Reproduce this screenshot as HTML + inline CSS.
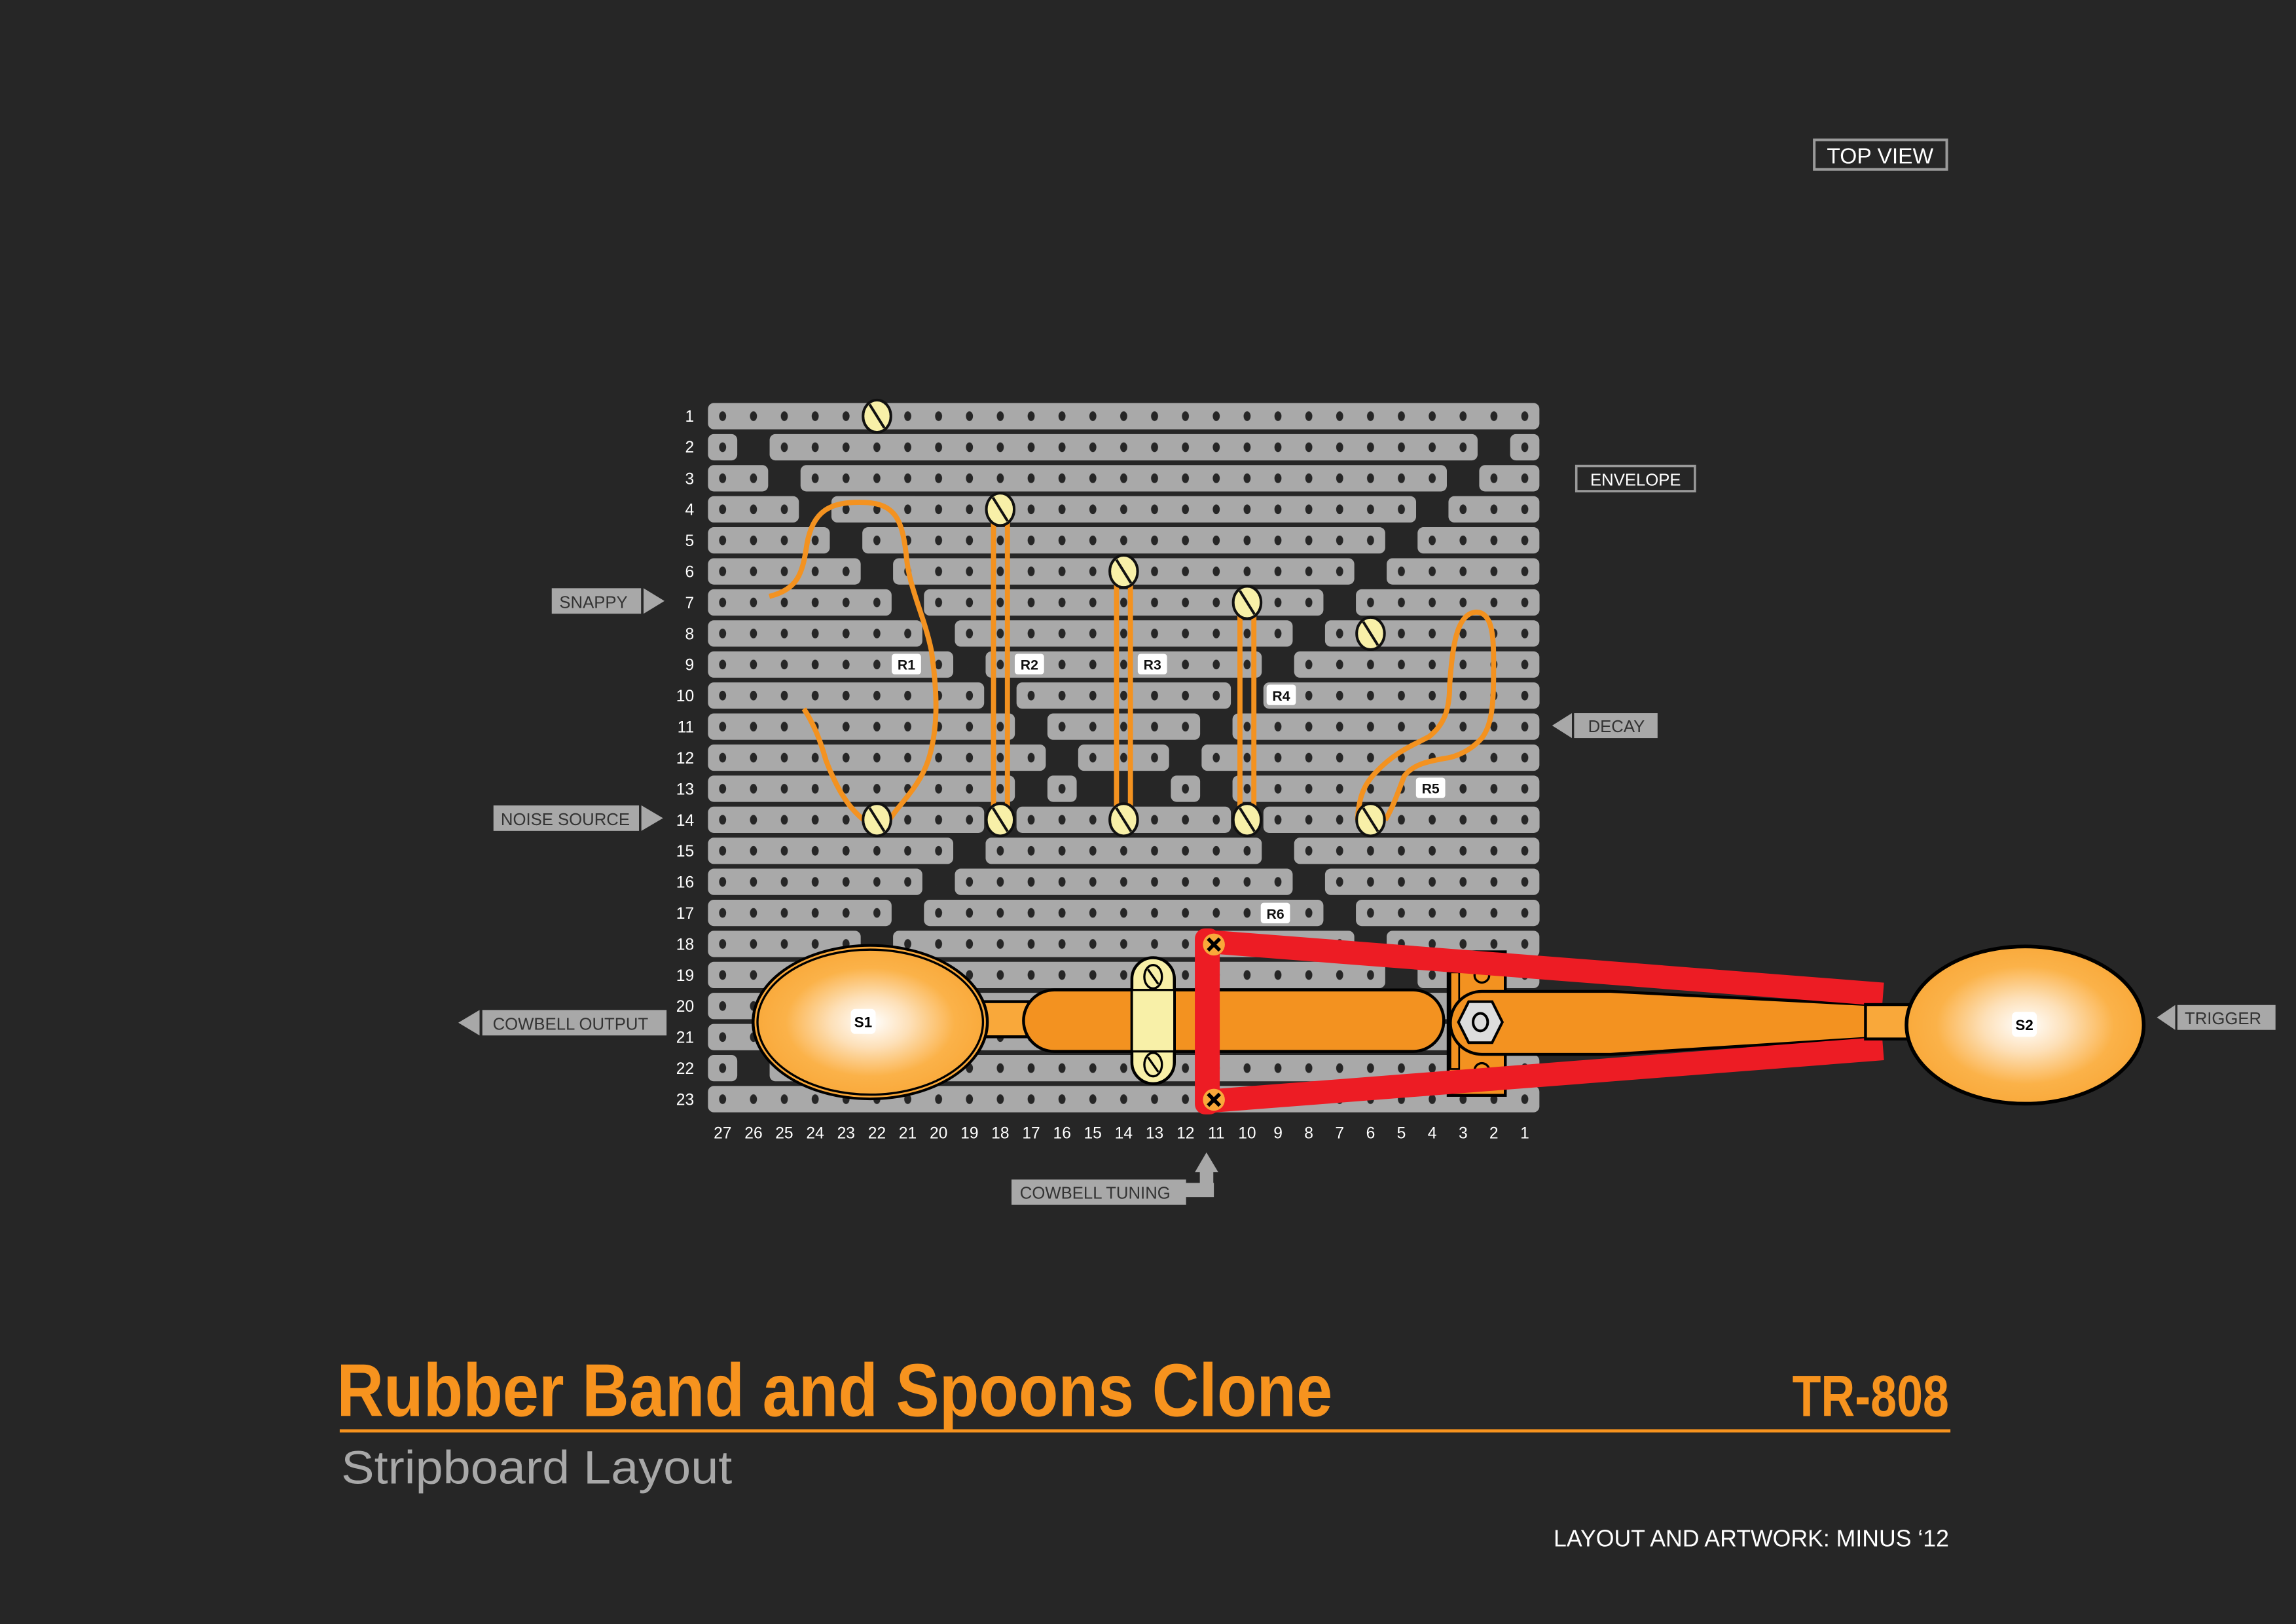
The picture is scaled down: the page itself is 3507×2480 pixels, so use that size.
<!DOCTYPE html>
<html><head><meta charset="utf-8"><style>
html,body{margin:0;padding:0;background:#262626;}
svg{display:block;}
text{font-family:"Liberation Sans",sans-serif;}
</style></head><body>
<svg width="3507" height="2480" viewBox="0 0 1568 1109" preserveAspectRatio="none" xmlns="http://www.w3.org/2000/svg">
<defs>
<pattern id="holes" patternUnits="userSpaceOnUse" x="482.965" y="273.6" width="21.07" height="21.2">
<ellipse cx="10.535" cy="10.6" rx="2.4" ry="3.3" fill="#262626"/>
</pattern>
<radialGradient id="sp" cx="0.5" cy="0.5" r="0.5">
<stop offset="0" stop-color="#ffffff"/>
<stop offset="0.35" stop-color="#fde0b8"/>
<stop offset="0.75" stop-color="#fbb249"/>
<stop offset="1" stop-color="#f9aa3c"/>
</radialGradient>
</defs>
<rect width="1568" height="1109" fill="#262626"/>

<g fill="#a9a9a9">
<rect x="483.5" y="275.2" width="567.8" height="18" rx="4"/>
<rect x="483.5" y="296.4" width="20" height="18" rx="4"/><rect x="525.6" y="296.4" width="483.5" height="18" rx="4"/><rect x="1031.3" y="296.4" width="20" height="18" rx="4"/>
<rect x="483.5" y="317.6" width="41.1" height="18" rx="4"/><rect x="546.7" y="317.6" width="441.4" height="18" rx="4"/><rect x="1010.2" y="317.6" width="41.1" height="18" rx="4"/>
<rect x="483.5" y="338.8" width="62.1" height="18" rx="4"/><rect x="567.8" y="338.8" width="399.3" height="18" rx="4"/><rect x="989.2" y="338.8" width="62.1" height="18" rx="4"/>
<rect x="483.5" y="360" width="83.2" height="18" rx="4"/><rect x="588.9" y="360" width="357.1" height="18" rx="4"/><rect x="968.1" y="360" width="83.2" height="18" rx="4"/>
<rect x="483.5" y="381.2" width="104.3" height="18" rx="4"/><rect x="609.9" y="381.2" width="315" height="18" rx="4"/><rect x="947" y="381.2" width="104.3" height="18" rx="4"/>
<rect x="483.5" y="402.4" width="125.4" height="18" rx="4"/><rect x="631" y="402.4" width="272.8" height="18" rx="4"/><rect x="926" y="402.4" width="125.4" height="18" rx="4"/>
<rect x="483.5" y="423.6" width="146.4" height="18" rx="4"/><rect x="652.1" y="423.6" width="230.7" height="18" rx="4"/><rect x="904.9" y="423.6" width="146.4" height="18" rx="4"/>
<rect x="483.5" y="444.8" width="167.5" height="18" rx="4"/><rect x="673.1" y="444.8" width="188.6" height="18" rx="4"/><rect x="883.8" y="444.8" width="167.5" height="18" rx="4"/>
<rect x="483.5" y="466" width="188.6" height="18" rx="4"/><rect x="694.2" y="466" width="146.4" height="18" rx="4"/><rect x="862.8" y="466" width="188.6" height="18" rx="4"/>
<rect x="483.5" y="487.2" width="209.6" height="18" rx="4"/><rect x="715.3" y="487.2" width="104.3" height="18" rx="4"/><rect x="841.7" y="487.2" width="209.6" height="18" rx="4"/>
<rect x="483.5" y="508.4" width="230.7" height="18" rx="4"/><rect x="736.3" y="508.4" width="62.1" height="18" rx="4"/><rect x="820.6" y="508.4" width="230.7" height="18" rx="4"/>
<rect x="483.5" y="529.6" width="209.6" height="18" rx="4"/><rect x="715.3" y="529.6" width="20" height="18" rx="4"/><rect x="799.6" y="529.6" width="20" height="18" rx="4"/><rect x="841.7" y="529.6" width="209.6" height="18" rx="4"/>
<rect x="483.5" y="550.8" width="188.6" height="18" rx="4"/><rect x="694.2" y="550.8" width="146.4" height="18" rx="4"/><rect x="862.8" y="550.8" width="188.6" height="18" rx="4"/>
<rect x="483.5" y="572" width="167.5" height="18" rx="4"/><rect x="673.1" y="572" width="188.6" height="18" rx="4"/><rect x="883.8" y="572" width="167.5" height="18" rx="4"/>
<rect x="483.5" y="593.2" width="146.4" height="18" rx="4"/><rect x="652.1" y="593.2" width="230.7" height="18" rx="4"/><rect x="904.9" y="593.2" width="146.4" height="18" rx="4"/>
<rect x="483.5" y="614.4" width="125.4" height="18" rx="4"/><rect x="631" y="614.4" width="272.8" height="18" rx="4"/><rect x="926" y="614.4" width="125.4" height="18" rx="4"/>
<rect x="483.5" y="635.6" width="104.3" height="18" rx="4"/><rect x="609.9" y="635.6" width="315" height="18" rx="4"/><rect x="947" y="635.6" width="104.3" height="18" rx="4"/>
<rect x="483.5" y="656.8" width="462.5" height="18" rx="4"/><rect x="968.1" y="656.8" width="83.2" height="18" rx="4"/>
<rect x="483.5" y="678" width="567.8" height="18" rx="4"/>
<rect x="483.5" y="699.2" width="567.8" height="18" rx="4"/>
<rect x="483.5" y="720.4" width="20" height="18" rx="4"/><rect x="525.6" y="720.4" width="525.7" height="18" rx="4"/>
<rect x="483.5" y="741.6" width="567.8" height="18" rx="4"/>
</g>
<rect x="480" y="272" width="575" height="490" fill="url(#holes)"/>

<g fill="#fff" font-size="11" text-anchor="end">
<text x="474" y="288">1</text><text x="474" y="309">2</text><text x="474" y="330.6">3</text><text x="474" y="351.8">4</text><text x="474" y="373">5</text><text x="474" y="394.2">6</text><text x="474" y="415.4">7</text><text x="474" y="436.6">8</text><text x="474" y="457.8">9</text><text x="474" y="479">10</text><text x="474" y="500.2">11</text><text x="474" y="521.4">12</text><text x="474" y="542.6">13</text><text x="474" y="563.8">14</text><text x="474" y="585">15</text><text x="474" y="606.2">16</text><text x="474" y="627.4">17</text><text x="474" y="648.6">18</text><text x="474" y="669.8">19</text><text x="474" y="691">20</text><text x="474" y="712.2">21</text><text x="474" y="733.4">22</text><text x="474" y="754.6">23</text>
</g>
<g fill="#fff" font-size="11" text-anchor="middle">
<text x="493.5" y="777.5">27</text><text x="514.6" y="777.5">26</text><text x="535.6" y="777.5">25</text><text x="556.7" y="777.5">24</text><text x="577.8" y="777.5">23</text><text x="598.9" y="777.5">22</text><text x="619.9" y="777.5">21</text><text x="641" y="777.5">20</text><text x="662.1" y="777.5">19</text><text x="683.1" y="777.5">18</text><text x="704.2" y="777.5">17</text><text x="725.3" y="777.5">16</text><text x="746.3" y="777.5">15</text><text x="767.4" y="777.5">14</text><text x="788.5" y="777.5">13</text><text x="809.6" y="777.5">12</text><text x="830.6" y="777.5">11</text><text x="851.7" y="777.5">10</text><text x="872.8" y="777.5">9</text><text x="893.8" y="777.5">8</text><text x="914.9" y="777.5">7</text><text x="936" y="777.5">6</text><text x="957" y="777.5">5</text><text x="978.1" y="777.5">4</text><text x="999.2" y="777.5">3</text><text x="1020.2" y="777.5">2</text><text x="1041.3" y="777.5">1</text>
</g>

<g fill="none" stroke="#f39220" stroke-width="3.5">
<line x1="678.5" y1="350" x2="678.5" y2="558"/><line x1="688" y1="350" x2="688" y2="558"/>
<line x1="762.5" y1="392" x2="762.5" y2="558"/><line x1="772" y1="392" x2="772" y2="558"/>
<line x1="846.8" y1="413" x2="846.8" y2="558"/><line x1="856.3" y1="413" x2="856.3" y2="558"/>
<path d="M525.4,407.3 C545,402 548,392 551,372 C555,348 568,343 587,343 C610,343 616,352 619,380 C621,402 631,420 636,444 C641,478 640,500 634,519 C628,537 616,547 608,559"/>
<path d="M549,484 C556,495 560,505 564,519 C572,540 580,552 590,560"/>
<path d="M927,560 C928,545 931,536 940,527 C953,513 967,508 976,503 C986,495 990,485 990,468 C992,440 995,419 1008,418 C1021,418 1020,440 1020,460 C1020,480 1019,495 1012,504 C1005,512 995,517 986,518 C975,520 965,522 959,530 C955,540 952,550 946,560"/>
</g>

<g stroke="#111" stroke-width="1.8">
<g transform="translate(598.9,284.2)"><ellipse rx="9.5" ry="11" fill="#f8f0a8"/><line x1="-5" y1="-8" x2="5" y2="8"/></g>
<g transform="translate(683.1,347.8)"><ellipse rx="9.5" ry="11" fill="#f8f0a8"/><line x1="-5" y1="-8" x2="5" y2="8"/></g>
<g transform="translate(767.4,390.2)"><ellipse rx="9.5" ry="11" fill="#f8f0a8"/><line x1="-5" y1="-8" x2="5" y2="8"/></g>
<g transform="translate(851.7,411.4)"><ellipse rx="9.5" ry="11" fill="#f8f0a8"/><line x1="-5" y1="-8" x2="5" y2="8"/></g>
<g transform="translate(936,432.6)"><ellipse rx="9.5" ry="11" fill="#f8f0a8"/><line x1="-5" y1="-8" x2="5" y2="8"/></g>
<g transform="translate(598.9,559.8)"><ellipse rx="9.5" ry="11" fill="#f8f0a8"/><line x1="-5" y1="-8" x2="5" y2="8"/></g>
<g transform="translate(683.1,559.8)"><ellipse rx="9.5" ry="11" fill="#f8f0a8"/><line x1="-5" y1="-8" x2="5" y2="8"/></g>
<g transform="translate(767.4,559.8)"><ellipse rx="9.5" ry="11" fill="#f8f0a8"/><line x1="-5" y1="-8" x2="5" y2="8"/></g>
<g transform="translate(851.7,559.8)"><ellipse rx="9.5" ry="11" fill="#f8f0a8"/><line x1="-5" y1="-8" x2="5" y2="8"/></g>
<g transform="translate(936,559.8)"><ellipse rx="9.5" ry="11" fill="#f8f0a8"/><line x1="-5" y1="-8" x2="5" y2="8"/></g>
</g>

<g font-size="9.5" font-weight="bold" text-anchor="middle" fill="#111">
<rect x="609" y="446.5" width="20" height="14" rx="2" fill="#fff"/><text x="619" y="457.3">R1</text>
<rect x="693" y="446.5" width="20" height="14" rx="2" fill="#fff"/><text x="703" y="457.3">R2</text>
<rect x="777" y="446.5" width="20" height="14" rx="2" fill="#fff"/><text x="787" y="457.3">R3</text>
<rect x="865" y="467.5" width="20" height="14" rx="2" fill="#fff"/><text x="875" y="478.5">R4</text>
<rect x="967" y="531" width="20" height="14" rx="2" fill="#fff"/><text x="977" y="541.8">R5</text>
<rect x="861" y="616.5" width="20" height="14" rx="2" fill="#fff"/><text x="871" y="627.3">R6</text>
</g>

<rect x="671" y="684" width="32" height="24" fill="#f9a83a" stroke="#000" stroke-width="2"/>
<ellipse cx="594.3" cy="698" rx="81" ry="53.3" fill="#000"/>
<ellipse cx="594.3" cy="698" rx="79" ry="51.5" fill="#f9a83a"/>
<ellipse cx="594.3" cy="698" rx="77" ry="49.5" fill="url(#sp)" stroke="#000" stroke-width="1.5"/>
<rect x="581" y="689" width="17" height="17" rx="3" fill="#fff"/>
<text x="589.5" y="701.5" font-size="10" font-weight="bold" text-anchor="middle" fill="#000">S1</text>
<rect x="699" y="676" width="287" height="42" rx="21" fill="#f39220" stroke="#000" stroke-width="2"/>
<rect x="773" y="654" width="29" height="86" rx="14.5" fill="#f8f0a8" stroke="#000" stroke-width="2"/>
<rect x="773" y="676" width="29" height="42" fill="#f8f0a8" stroke="#000" stroke-width="1.5"/>
<g stroke="#000" stroke-width="1.5" fill="#f8f0a8">
<ellipse cx="787.5" cy="667" rx="6" ry="8"/><line x1="784" y1="662" x2="791" y2="672"/>
<ellipse cx="787.5" cy="727" rx="6" ry="8"/><line x1="784" y1="722" x2="791" y2="732"/>
</g>

<rect x="989" y="650" width="39" height="98" fill="#f39220" stroke="#000" stroke-width="2"/>
<rect x="990.5" y="664" width="6" height="66" fill="#f39220" stroke="#000" stroke-width="1.2"/>
<circle cx="1012" cy="666" r="5" fill="#f39220" stroke="#000" stroke-width="1.5"/>
<circle cx="1012" cy="731" r="5" fill="#f39220" stroke="#000" stroke-width="1.5"/>
<path d="M1012,677 H1100 L1276,686 V709 L1100,720 H1012 A21.5,21.5 0 0 1 1012,677 Z" fill="#f39220" stroke="#000" stroke-width="2"/>
<polygon points="996,698 1003,684 1019,684 1026,698 1019,712 1003,712" fill="#ddd" stroke="#000" stroke-width="1.8"/>
<ellipse cx="1011" cy="698" rx="5" ry="6" fill="#ddd" stroke="#000" stroke-width="1.8"/>

<g stroke="#ed1c24" stroke-width="16">
<line x1="825" y1="643" x2="1286" y2="679"/>
<line x1="825" y1="752" x2="1286" y2="716"/>
</g>
<rect x="816" y="634" width="17" height="127" rx="7" fill="#ed1c24"/>
<g>
<circle cx="829" cy="645" r="7.5" fill="#f9a83a"/>
<path d="M825,641 L833,649 M833,641 L825,649" stroke="#000" stroke-width="2.5"/>
<circle cx="829" cy="751" r="7.5" fill="#f9a83a"/>
<path d="M825,747 L833,755 M833,747 L825,755" stroke="#000" stroke-width="2.5"/>
</g>
<rect x="1274" y="686" width="30" height="23.5" fill="#f9a83a" stroke="#000" stroke-width="2"/>
<ellipse cx="1383" cy="700" rx="81" ry="53.7" fill="url(#sp)" stroke="#000" stroke-width="2.5"/>
<rect x="1374" y="691" width="17" height="17" rx="3" fill="#fff"/>
<text x="1382.5" y="703.5" font-size="10" font-weight="bold" text-anchor="middle" fill="#000">S2</text>

<g fill="#a8a8a8">
<rect x="376.8" y="401.7" width="61" height="17.4"/><polygon points="439.5,401.7 453.8,410.4 439.5,419.1"/>
<rect x="337" y="550" width="99.4" height="17.4"/><polygon points="438,550 452.8,558.7 438,567.4"/>
<rect x="329.4" y="689.7" width="125.8" height="17.4"/><polygon points="327.5,689.7 313,698.4 327.5,707.1"/>
<rect x="1075" y="487" width="57" height="17"/><polygon points="1073.5,487 1060,495.5 1073.5,504"/>
<rect x="1487" y="686.3" width="67" height="17"/><polygon points="1485.5,686.3 1473,694.8 1485.5,703.3"/>
<rect x="690.8" y="805.5" width="119.2" height="17.2"/>
<rect x="809" y="807.8" width="20" height="9.7"/>
<rect x="819.4" y="799" width="9.2" height="18"/>
<polygon points="816,800.5 823.9,787 832,800.5"/>
</g>
<g fill="#333" font-size="11.5">
<text x="382" y="415.2">SNAPPY</text>
<text x="342" y="563.5">NOISE SOURCE</text>
<text x="336.5" y="703.2">COWBELL OUTPUT</text>
<text x="1084.5" y="500">DECAY</text>
<text x="1492" y="699.5">TRIGGER</text>
<text x="696.5" y="818.5">COWBELL TUNING</text>
</g>
<rect x="1076.5" y="318.2" width="81" height="17.2" fill="none" stroke="#9a9a9a" stroke-width="1.6"/>
<text x="1117" y="331.5" font-size="11.5" fill="#fff" text-anchor="middle">ENVELOPE</text>
<rect x="1239" y="95.5" width="90.5" height="20.2" fill="none" stroke="#9a9a9a" stroke-width="1.8"/>
<text x="1284" y="111.5" font-size="15" fill="#fff" text-anchor="middle">TOP VIEW</text>

<text x="230" y="967" font-size="51" font-weight="bold" fill="#f7931e" textLength="680" lengthAdjust="spacingAndGlyphs">Rubber Band and Spoons Clone</text>
<text x="1224" y="967" font-size="40" font-weight="bold" fill="#f7931e" textLength="107" lengthAdjust="spacingAndGlyphs">TR-808</text>
<rect x="232" y="976" width="1100" height="2.2" fill="#f7931e"/>
<text x="233" y="1013" font-size="32" fill="#a8a8a8" textLength="267" lengthAdjust="spacingAndGlyphs">Stripboard Layout</text>
<text x="1331" y="1056" font-size="16" fill="#fff" text-anchor="end" textLength="270" lengthAdjust="spacingAndGlyphs">LAYOUT AND ARTWORK: MINUS ‘12</text>
</svg>
</body></html>
